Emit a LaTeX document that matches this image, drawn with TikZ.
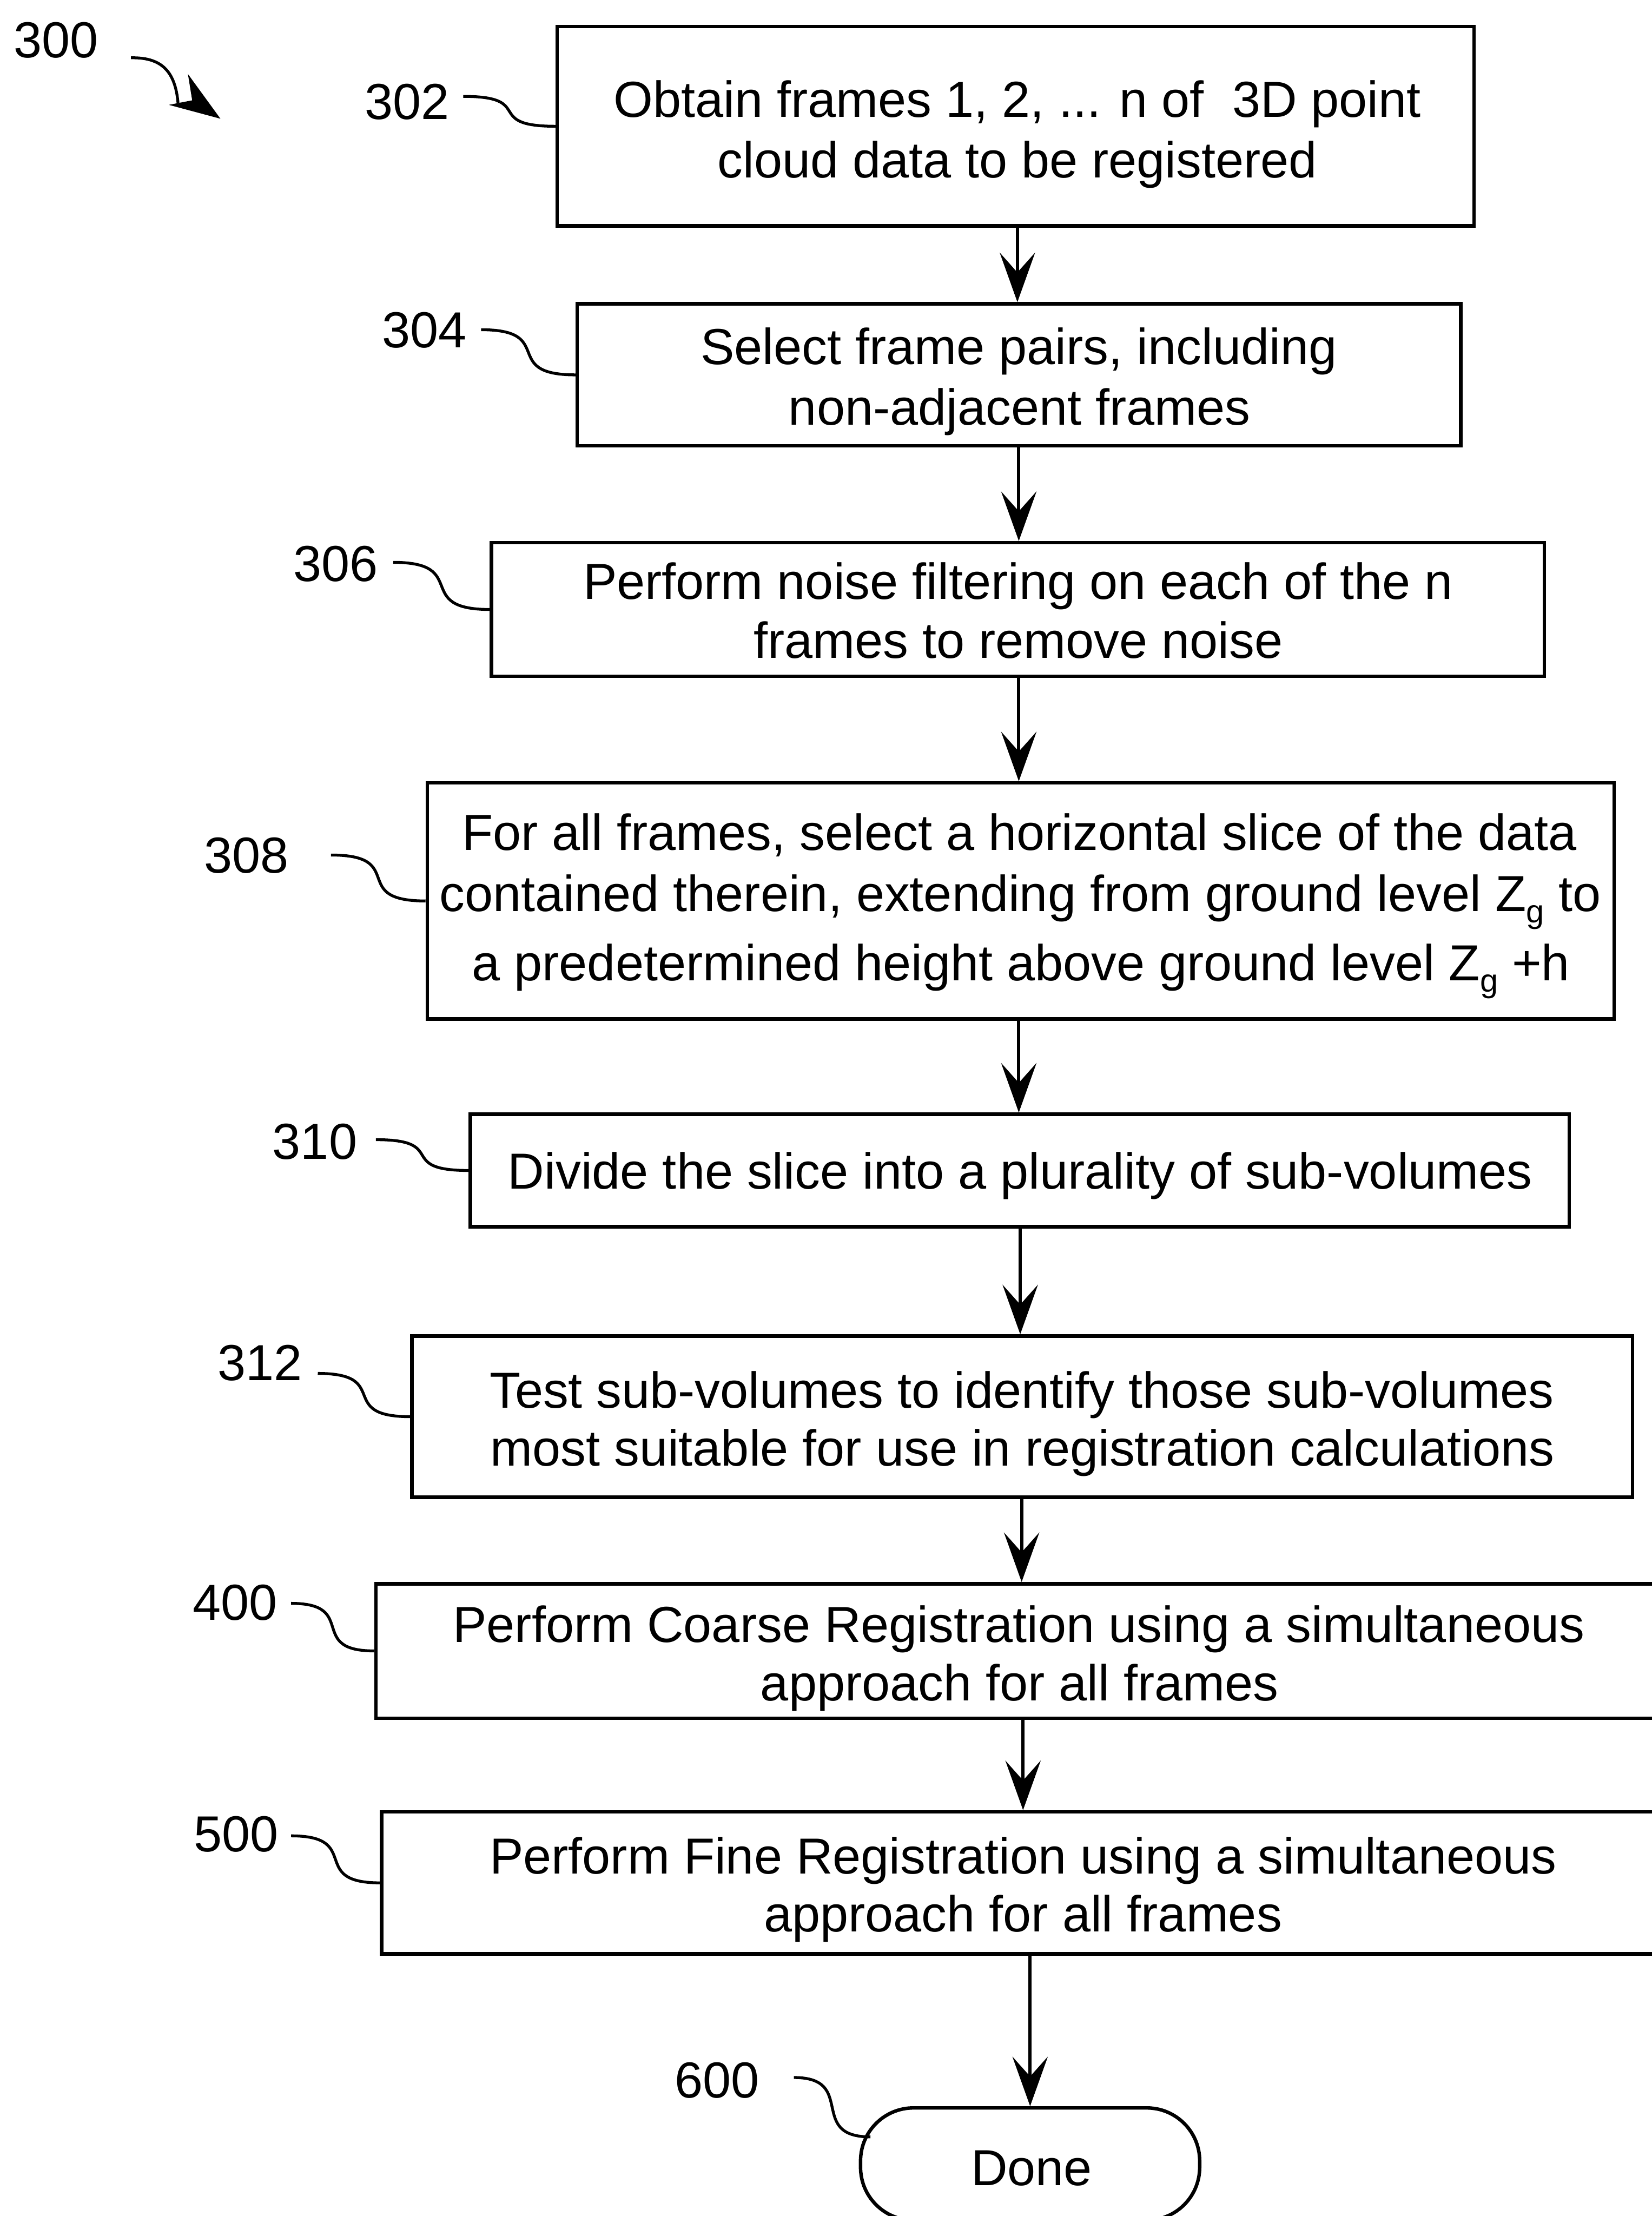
\documentclass[tikz,border=0pt]{standalone}
\usepackage{fontspec}
\setmainfont{Liberation Sans}
\usetikzlibrary{arrows.meta,fit}
\newcommand\mainsz{\fontsize{20.4pt}{24pt}\selectfont}
\newcommand\subg{\raisebox{-0.22em}{\fontsize{13pt}{13pt}\selectfont g}}
\begin{document}
\begin{tikzpicture}[x=0.02cm,y=-0.02cm,
  box/.style={draw, line width=1.4pt, inner sep=0pt},
  txt/.style={anchor=base, inner sep=0pt, font=\mainsz},
  lbl/.style={inner sep=0pt, font=\mainsz},
  lead/.style={line width=1.15pt},
  arr/.style={line width=1.3pt, -{Stealth[length=7mm,width=5mm,inset=2.8mm]}}]
\useasboundingbox (0,0) rectangle (1169,1568);

% boxes
\node[box, fit={(394.4,18.8)(1043.2,159.9)}] (b302) {};
\node[box, fit={(408.5,215)(1033.8,315.5)}] (b304) {};
\node[box, fit={(347.8,384)(1092.9,478.5)}] (b306) {};
\node[box, fit={(302.4,554)(1142.3,721)}] (b308) {};
\node[box, fit={(332.8,788.4)(1110.6,868)}] (b310) {};
\node[box, fit={(291.5,945.3)(1155.4,1059.5)}] (b312) {};
\node[box, fit={(266,1120.6)(1178,1215.7)}] (b400) {};
\node[box, fit={(270,1282)(1174,1382.5)}] (b500) {};
\node[box, rounded corners=0.75cm, fit={(609,1491.5)(849,1571)}] (done) {};

% texts
\node[txt] (t302a) at (720,82.9) {Obtain frames 1, 2, ... n of\ \ 3D point};
\node[txt] (t302b) at (720,125.8) {cloud data to be registered};
\node[txt] (t304a) at (721,257.7) {Select frame pairs, including};
\node[txt] (t304b) at (721.5,300.6) {non-adjacent frames};
\node[txt] (t306a) at (720.5,424.1) {Perform noise filtering on each of the n};
\node[txt] (t306b) at (720.5,465.5) {frames to remove noise};
\node[txt] (t308a) at (721.5,601.4) {For all frames, select a horizontal slice of the data};
\node[txt] (t308b) at (722,644.9) {contained therein, extending from ground level Z\subg\ to};
\node[txt] (t308c) at (722.5,693.9) {a predetermined height above ground level Z\subg\ +h};
\node[txt] (t310) at (722,841.1) {Divide the slice into a plurality of sub-volumes};
\node[txt] (t312a) at (723,996.3) {Test sub-volumes to identify those sub-volumes};
\node[txt] (t312b) at (723.5,1037.2) {most suitable for use in registration calculations};
\node[txt] (t400a) at (721,1162) {Perform Coarse Registration using a simultaneous};
\node[txt] (t400b) at (721.5,1203.5) {approach for all frames};
\node[txt] (t500a) at (724,1325.7) {Perform Fine Registration using a simultaneous};
\node[txt] (t500b) at (724,1367) {approach for all frames};
\node[txt] (tdone) at (730,1546.2) {Done};

% reference labels
\node[lbl] (l300) at (39.5,28.6) {300};
\node[lbl] (l302) at (288,72) {302};
\node[lbl] (l304) at (300.5,233.5) {304};
\node[lbl] (l306) at (237.6,399) {306};
\node[lbl] (l308) at (174.5,605.3) {308};
\node[lbl] (l310) at (222.8,808) {310};
\node[lbl] (l312) at (184,964.3) {312};
\node[lbl] (l400) at (166.5,1133.8) {400};
\node[lbl] (l500) at (167,1298) {500};
\node[lbl] (l600) at (507.5,1472) {600};

% leader start points
\coordinate (s300) at (92.7,40.9);
\coordinate (e300) at (126,73);
\coordinate (s302) at (327.8,68.2);
\coordinate (s304) at (340.5,233.3);
\coordinate (s306) at (278.3,397.9);
\coordinate (s308) at (234.2,605);
\coordinate (s310) at (266,806.4);
\coordinate (s312) at (224.9,971.8);
\coordinate (s400) at (206,1134.5);
\coordinate (s500) at (206,1299);
\coordinate (s600) at (561.8,1470);
\coordinate (e600) at (616,1512);

% leaders
\draw[lead] (s300) .. controls (114,40.5) and (124,50) .. (e300);
\fill (133,52.4) -- (156,84) -- (119.5,74.2) -- (136,71) -- cycle;
\draw[lead] (s302) .. controls +(52,0) and +(-52,0) .. (b302.west);
\draw[lead] (s304) .. controls +(54,0) and +(-54,0) .. (b304.west);
\draw[lead] (s306) .. controls +(55,0) and +(-55,0) .. (b306.west);
\draw[lead] (s308) .. controls +(55,0) and +(-55,0) .. (b308.west);
\draw[lead] (s310) .. controls +(52,0) and +(-52,0) .. (b310.west);
\draw[lead] (s312) .. controls +(53,0) and +(-53,0) .. (b312.west);
\draw[lead] (s400) .. controls +(48,0) and +(-48,0) .. (b400.west);
\draw[lead] (s500) .. controls +(51,0) and +(-51,0) .. (b500.west);
\draw[lead] (s600) .. controls +(45,0) and +(-45,0) .. (e600);

% flow arrows
\draw[arr] (b302.south -| 720,0) -- (b304.north -| 720,0);
\draw[arr] (b304.south -| 721,0) -- (b306.north -| 721,0);
\draw[arr] (b306.south -| 721,0) -- (b308.north -| 721,0);
\draw[arr] (b308.south -| 721,0) -- (b310.north -| 721,0);
\draw[arr] (b310.south -| 722,0) -- (b312.north -| 722,0);
\draw[arr] (b312.south -| 723,0) -- (b400.north -| 723,0);
\draw[arr] (b400.south -| 724,0) -- (b500.north -| 724,0);
\draw[arr] (b500.south -| 729,0) -- (done.north -| 729,0);
\end{tikzpicture}
\end{document}
